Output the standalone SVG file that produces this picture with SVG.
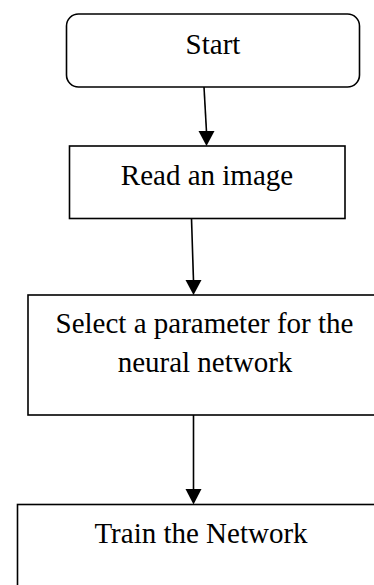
<svg xmlns="http://www.w3.org/2000/svg" width="374" height="585" viewBox="0 0 374 585">
<style>
.box{fill:#fff;stroke:#000;stroke-width:1.6}
.lbl{font-family:"Liberation Serif","Times New Roman",serif;font-size:29px;fill:#000;text-anchor:middle}
.edge{stroke:#000;stroke-width:1.6;fill:none}
.head{fill:#000}
</style>
<rect width="374" height="585" fill="#fff"/>
<g id="start">
<rect class="box" x="66.5" y="14" width="293" height="73" rx="12" ry="12"/>
<text class="lbl" x="213" y="54">Start</text>
</g>
<g id="read">
<rect class="box" x="69.5" y="146" width="275.5" height="72.5"/>
<text class="lbl" x="207" y="184.5">Read an image</text>
</g>
<g id="select">
<rect class="box" x="28" y="295" width="360" height="120"/>
<text class="lbl" x="204.5" y="332.5">Select a parameter for the</text>
<text class="lbl" x="205" y="371.5">neural network</text>
</g>
<g id="train">
<rect class="box" x="17.5" y="504.5" width="380" height="100"/>
<text class="lbl" x="201" y="542.5">Train the Network</text>
</g>
<g id="connectors">
<line class="edge" x1="204" y1="87" x2="206.5" y2="132"/>
<polygon class="head" points="198.5,131 214.5,131 206.5,146"/>
<line class="edge" x1="191.5" y1="218.5" x2="193.5" y2="281"/>
<polygon class="head" points="185.5,280 201.5,280 193.5,295"/>
<line class="edge" x1="193.5" y1="415" x2="193.5" y2="490"/>
<polygon class="head" points="185.5,489 201.5,489 193.5,504.5"/>
</g>
</svg>
